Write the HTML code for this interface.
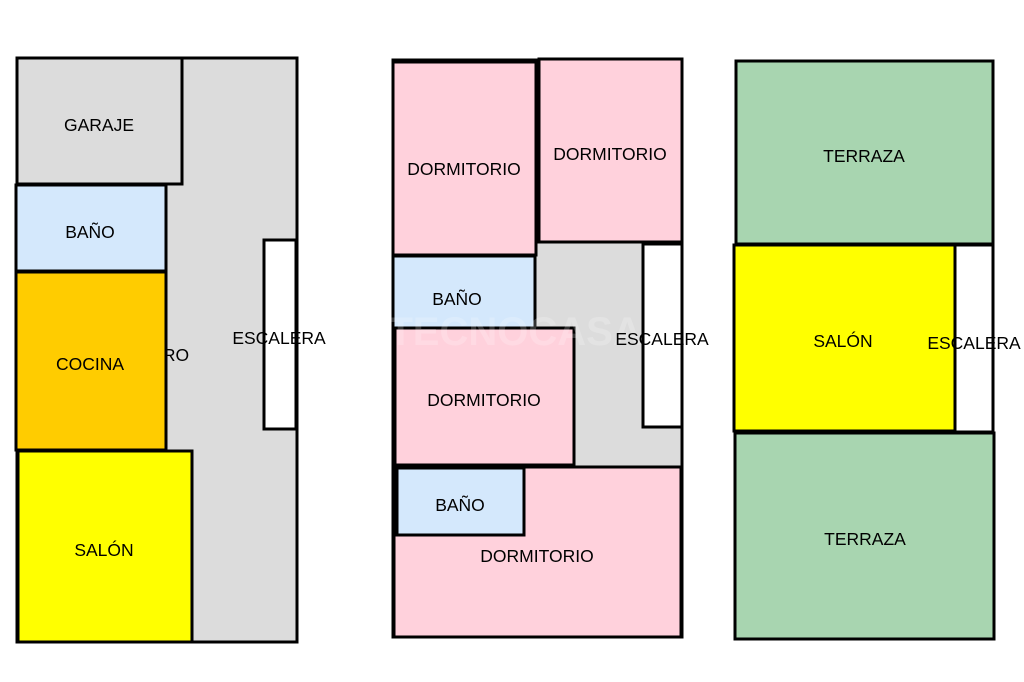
<!DOCTYPE html>
<html><head><meta charset="utf-8"><style>
html,body{margin:0;padding:0;background:#fff;}
svg{display:block;}
text{font-family:"Liberation Sans",Arial,sans-serif;font-size:17.5px;fill:#000;text-anchor:middle;}
</style></head><body>
<svg width="1024" height="682" viewBox="0 0 1024 682" xmlns="http://www.w3.org/2000/svg">
<g stroke="#000" stroke-width="3">
<rect x="17" y="58" width="280" height="584" fill="#dcdcdc"/>
</g>
<text x="176" y="361">RO</text>
<g stroke="#000" stroke-width="3">
<rect x="17" y="58" width="165" height="126" fill="#dcdcdc"/>
<rect x="16" y="185" width="150" height="86" fill="#d4e8fc"/>
<rect x="16" y="272" width="150" height="178" fill="#ffcc00"/>
<rect x="18" y="451" width="174" height="191" fill="#ffff00"/>
<rect x="264" y="240" width="32" height="189" fill="#fff"/>
</g>
<text x="99" y="131">GARAJE</text>
<text x="90" y="238">BAÑO</text>
<text x="90" y="370">COCINA</text>
<text x="104" y="556">SALÓN</text>
<text x="279" y="344">ESCALERA</text>

<g stroke="#000" stroke-width="3">
<rect x="393" y="60" width="289" height="577" fill="#dcdcdc"/>
<rect x="393" y="62" width="143" height="193" fill="#ffd1dc"/>
<rect x="539" y="59" width="143" height="183" fill="#ffd1dc"/>
<rect x="393" y="256" width="142" height="72" fill="#d4e8fc"/>
<rect x="395" y="328" width="179" height="137" fill="#ffd1dc"/>
<rect x="643" y="244" width="39" height="183" fill="#fff"/>
<rect x="394" y="467" width="287" height="170" fill="#ffd1dc"/>
<rect x="397" y="468" width="127" height="67" fill="#d4e8fc"/>
</g>
<text x="515" y="345" style="font-size:40px;font-weight:bold;fill:#fff;opacity:0.2">TECNOCASA</text>
<text x="464" y="175">DORMITORIO</text>
<text x="610" y="160">DORMITORIO</text>
<text x="457" y="305">BAÑO</text>
<text x="484" y="406">DORMITORIO</text>
<text x="662" y="345">ESCALERA</text>
<text x="460" y="511">BAÑO</text>
<text x="537" y="562">DORMITORIO</text>

<g stroke="#000" stroke-width="3">
<rect x="736" y="61" width="257" height="183" fill="#a8d5b0"/>
<rect x="735" y="433" width="259" height="206" fill="#a8d5b0"/>
<rect x="734" y="245" width="221" height="186" fill="#ffff00"/>
<rect x="955" y="245" width="38" height="187" fill="#fff"/>
</g>
<text x="864" y="162">TERRAZA</text>
<text x="843" y="347">SALÓN</text>
<text x="974" y="349">ESCALERA</text>
<text x="865" y="545">TERRAZA</text>
</svg>
</body></html>
